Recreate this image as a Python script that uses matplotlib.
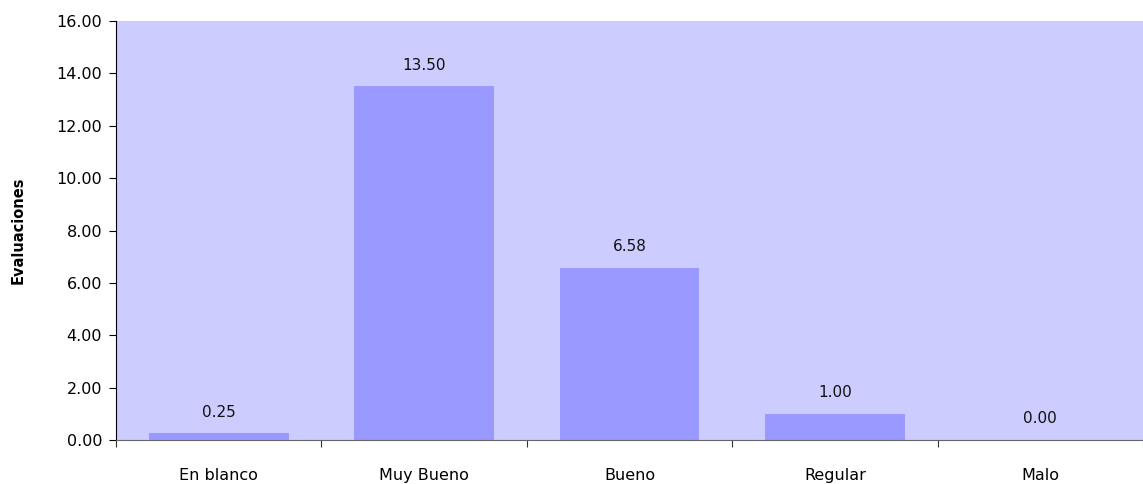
import numpy as np
import matplotlib.pyplot as plt

categorias = ['En blanco', 'Muy Bueno', 'Bueno', 'Regular', 'Malo']
valores = [0.25, 13.50, 6.58, 1.00, 0.00]
yticks = [0, 2, 4, 6, 8, 10, 12, 14, 16]

fig = plt.figure(figsize=(11.43, 4.84), dpi=100)
ax = fig.add_axes([0.1015, 0.0909, 0.8985, 0.8657])
ax.set_facecolor('#CCCCFF')

x = np.arange(len(categorias))
ax.bar(x, valores, width=0.68, color='#9999FF', zorder=2)

for xi, v in zip(x, valores):
    ax.annotate(f'{v:.2f}', (xi, v), xytext=(0, 10), textcoords='offset points',
                ha='center', va='bottom', fontsize=11, color='#111111')

ax.set_xlim(-0.5, len(categorias) - 0.5)
ax.set_ylim(0, 16)
ax.set_yticks(yticks)
ax.set_yticklabels([f'{t:.2f}' for t in yticks], fontsize=11.5)

# category labels between boundary ticks
ax.set_xticks(np.arange(len(categorias) + 1) - 0.5)
ax.set_xticklabels([])
ax.set_xticks(x, minor=True)
ax.set_xticklabels(categorias, minor=True, fontsize=11.5)
ax.tick_params(axis='x', which='minor', length=0, pad=20)
ax.tick_params(axis='x', which='major', length=5, color='#333333')
ax.tick_params(axis='y', length=5, pad=5)

ax.set_ylabel('Evaluaciones', fontsize=10.5, fontweight='bold', labelpad=22)

for s in ['top', 'right']:
    ax.spines[s].set_visible(False)
ax.spines['bottom'].set_color('#666666')
ax.spines['left'].set_color('black')

fig.savefig('out.png', dpi=100)
